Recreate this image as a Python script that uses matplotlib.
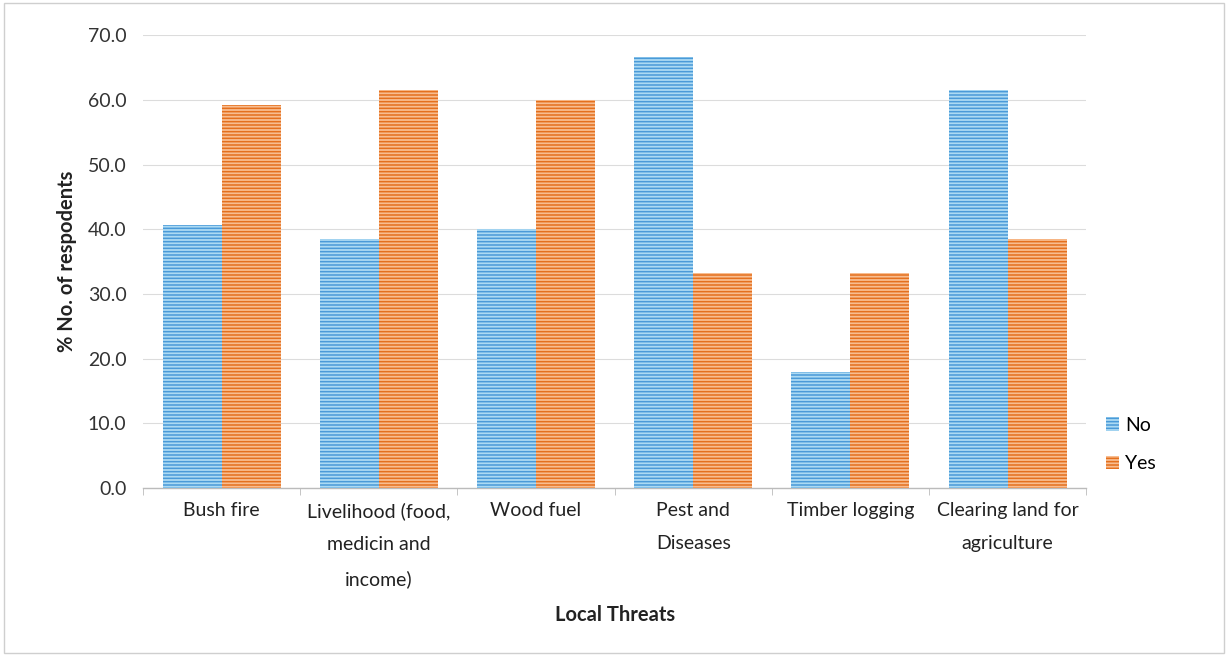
import matplotlib
matplotlib.use('agg')
import matplotlib.pyplot as plt
import numpy as np

# Survey results: share of respondents per local threat
threats = ['Bush fire', 'Livelihood (food,\nmedicin and\nincome)', 'Wood fuel',
           'Pest and\nDiseases', 'Timber logging', 'Clearing land for\nagriculture']
no_pct = [40.7, 38.5, 40.0, 66.7, 17.9, 61.5]
yes_pct = [59.3, 61.5, 60.0, 33.3, 33.3, 38.5]
y_ticks = [0, 10, 20, 30, 40, 50, 60, 70]

plt.rcParams['font.family'] = ['Lato', 'DejaVu Sans']
plt.rcParams['hatch.linewidth'] = 1.1

fig = plt.figure(figsize=(12.28, 6.56), dpi=100)
ax = fig.add_axes([0.1165, 0.256, 0.768, 0.690])

x = np.arange(len(threats))
w = 0.375

# striped fill like the printed chart
b1 = ax.bar(x - w / 2, no_pct, w, color='#acdaf3', edgecolor='#4a9ad8',
            linewidth=0, hatch='-----', label='No', zorder=3)
b2 = ax.bar(x + w / 2, yes_pct, w, color='#f8bd90', edgecolor='#e4701e',
            linewidth=0, hatch='-----', label='Yes', zorder=3)

ax.set_xlim(-0.5, len(threats) - 0.5)
ax.set_ylim(0, 70)
ax.set_yticks(y_ticks)
ax.set_yticklabels(['%.1f' % v for v in y_ticks], fontsize=14, color='#333333')
ax.set_xticks(x)
ax.set_xticklabels(threats, fontsize=14, color='#222222', linespacing=2.15)
ax.set_xticks(np.arange(len(threats) + 1) - 0.5, minor=True)
ax.tick_params(axis='x', which='major', length=0, pad=10)
ax.tick_params(axis='x', which='minor', length=5, color='#bbbbbb')
ax.tick_params(axis='y', length=0, pad=12)

ax.grid(axis='y', color='#dcdcdc', linewidth=0.8, zorder=0)
for s in ['top', 'right', 'left']:
    ax.spines[s].set_visible(False)
ax.spines['bottom'].set_color('#bbbbbb')
ax.spines['bottom'].set_linewidth(1.0)

ax.set_ylabel('% No. of respodents', fontsize=14.5, fontweight='bold', color='#222222', labelpad=8)
ax.set_xlabel('Local Threats', fontsize=14.5, fontweight='bold', color='#222222', labelpad=12)

fig.legend(handles=[b1, b2], loc='center left', bbox_to_anchor=(0.886, 0.322),
           frameon=False, fontsize=14, handlelength=0.7, handleheight=0.7,
           handletextpad=0.3, labelspacing=1.1)

# light outer border of the chart area
fig.patches.append(plt.Rectangle((0.003, 0.005), 0.994, 0.99, transform=fig.transFigure,
                                 fill=False, edgecolor='#cfcfcf', linewidth=1.0))

fig.savefig('out.png', dpi=100, facecolor='white')
plt.close(fig)
